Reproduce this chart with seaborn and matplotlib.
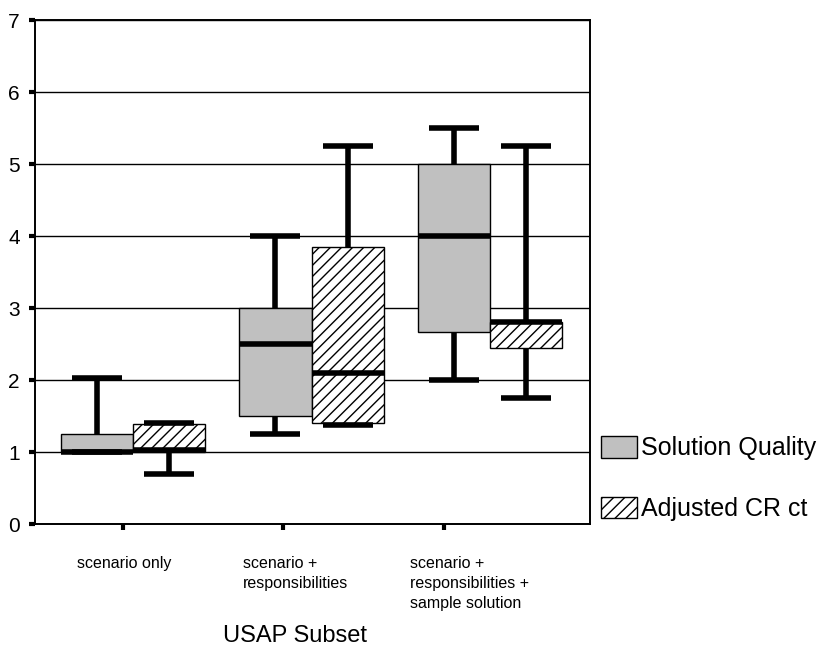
import numpy as np
import pandas as pd
import seaborn as sns
import matplotlib.pyplot as plt
from matplotlib.patches import Patch
from matplotlib.transforms import blended_transform_factory

# ---- data -------------------------------------------------------------
categories = ["scenario only",
              "scenario +\nresponsibilities",
              "scenario +\nresponsibilities +\nsample solution"]
series = ["Solution Quality", "Adjusted CR ct"]
# five-number summaries: min, q1, median, q3, max
solution_quality = [
    [1.0, 1.0, 1.0, 1.25, 2.03],
    [1.25, 1.5, 2.5, 3.0, 4.0],
    [2.0, 2.67, 4.0, 5.0, 5.5],
]
adjusted_cr = [
    [0.7, 1.0, 1.03, 1.39, 1.4],
    [1.38, 1.4, 2.1, 3.85, 5.25],
    [1.75, 2.45, 2.8, 2.8, 5.25],
]
y_ticks = [0, 1, 2, 3, 4, 5, 6, 7]
x_title = "USAP Subset"

rows = []
for cat, sq, cr in zip(categories, solution_quality, adjusted_cr):
    for v in sq:
        rows.append((cat, series[0], v))
    for v in cr:
        rows.append((cat, series[1], v))
df = pd.DataFrame(rows, columns=["condition", "series", "value"])

# ---- style ------------------------------------------------------------
sns.set_style("white")
plt.rcParams["font.family"] = ["Liberation Sans", "DejaVu Sans"]
plt.rcParams["hatch.linewidth"] = 1.0
plt.rcParams["hatch.color"] = "black"
plt.rcParams["text.color"] = "black"
plt.rcParams["ytick.labelcolor"] = "black"

fig = plt.figure(figsize=(8.21, 6.55), dpi=100)
W, H = 821, 655
ax = fig.add_axes([35 / W, 1 - 524 / H, (590 - 35) / W, (524 - 20) / H])

colors = {series[0]: "#c0c0c0", series[1]: "white"}
sns.boxplot(data=df, x="condition", y="value", hue="series",
            order=categories, hue_order=series, palette=colors,
            saturation=1, whis=(0, 100), width=0.81, gap=0,
            linecolor="black", linewidth=1.0, showfliers=False,
            whiskerprops=dict(linewidth=4, solid_capstyle="butt"),
            capprops=dict(linewidth=4, solid_capstyle="butt"),
            medianprops=dict(linewidth=4, solid_capstyle="butt"),
            capwidths=0.28, legend=False, ax=ax)

for p in ax.patches:
    fc = p.get_facecolor()
    if fc[0] > 0.95 and fc[1] > 0.95 and fc[2] > 0.95:
        p.set_hatch("///")

ax.set_xlim(-0.55, 2.56)
ax.set_ylim(0, 7)
ax.set_yticks(y_ticks)
ax.set_yticklabels([str(t) for t in y_ticks], fontsize=15, color="black")
ax.set_axisbelow(True)
ax.yaxis.grid(True, color="black", linewidth=1.0)
ax.xaxis.grid(False)
ax.set_xlabel("")
ax.set_ylabel("")

# category tick marks (Excel places them left of the box pairs)
tick_pos = [-0.056, 0.84, 1.742]
ax.set_xticks(tick_pos)
ax.set_xticklabels(["", "", ""])
label_left = [-0.314, 0.616, 1.552]
trans = blended_transform_factory(ax.transData, ax.transAxes)
for xl, cat in zip(label_left, categories):
    ax.text(xl, -0.064, cat, transform=trans, ha="left", va="top",
            fontsize=11.5, linespacing=1.4, color="black")

ax.tick_params(axis="x", length=4, width=3, color="black", direction="out")
ax.tick_params(axis="y", length=4, width=3, color="black", pad=7, direction="out")
ax.tick_params(bottom=True, left=True)

for s in ax.spines.values():
    s.set_color("black")
    s.set_linewidth(1.4)
    s.set_visible(True)

fig.text(295 / W, 1 - 636 / H, x_title, ha="center", va="center", fontsize=17,
         color="black")

handles = [Patch(facecolor=colors[series[0]], edgecolor="black", linewidth=1.0, label=series[0]),
           Patch(facecolor="white", edgecolor="black", linewidth=1.0, hatch="///", label=series[1])]
fig.legend(handles=handles, loc="upper left", bbox_to_anchor=(601 / W, 1 - 436 / H),
           frameon=False, fontsize=18, handlelength=1.45, handleheight=0.95,
           handletextpad=0.15, labelspacing=1.45, borderaxespad=0, borderpad=0,
           labelcolor="black")

fig.savefig("out.png", dpi=100)
